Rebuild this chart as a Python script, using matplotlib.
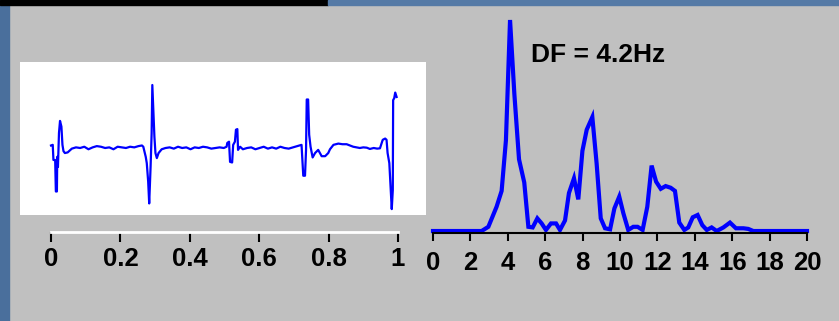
import matplotlib
matplotlib.use('Agg')
import matplotlib.pyplot as plt
from matplotlib.patches import Rectangle

plt.rcParams['font.family'] = ['Liberation Sans', 'DejaVu Sans']
plt.rcParams['font.weight'] = 'bold'

# ECG segment (time in s, amplitude normalised)
ecg_t = [0.0, 0.005, 0.007, 0.012, 0.014, 0.017, 0.018, 0.020, 0.023, 0.026, 0.030, 0.033, 0.036, 0.040,
         0.048, 0.060, 0.072, 0.084, 0.096, 0.108, 0.120, 0.132, 0.144, 0.156, 0.168, 0.180, 0.192,
         0.204, 0.216, 0.228, 0.240, 0.252, 0.262, 0.266,
         0.269, 0.273, 0.276, 0.280, 0.283, 0.287, 0.290, 0.292, 0.295, 0.298, 0.301, 0.305, 0.310, 0.319,
         0.330, 0.342, 0.354, 0.366, 0.378, 0.390, 0.402, 0.414, 0.426, 0.438, 0.450, 0.462, 0.474,
         0.486, 0.498, 0.506,
         0.508, 0.513, 0.516, 0.522, 0.525, 0.530, 0.533, 0.537, 0.539, 0.545, 0.553,
         0.565, 0.577, 0.589, 0.601, 0.613, 0.625, 0.637, 0.649, 0.661, 0.673, 0.685, 0.697, 0.709, 0.722,
         0.724, 0.727, 0.732, 0.735, 0.737, 0.741, 0.744, 0.748, 0.754, 0.761, 0.770, 0.780, 0.790,
         0.799, 0.804, 0.814, 0.828, 0.840, 0.852, 0.871, 0.890, 0.900, 0.910, 0.919, 0.930, 0.940, 0.948,
         0.956, 0.963, 0.967, 0.970, 0.975, 0.979, 0.982, 0.985, 0.986, 0.989, 0.992, 0.996]
ecg_v = [0.04, 0.05, -0.19, -0.19, -0.69, -0.69, -0.14, -0.30, 0.24, 0.43, 0.34, 0.05, -0.05, -0.08,
         -0.07, -0.01, 0.01, 0.00, 0.02, -0.02, 0.01, 0.03, 0.02, 0.00, 0.01, -0.02, 0.02,
         0.01, 0.00, 0.02, 0.01, 0.03, 0.04, 0.02,
         -0.05, -0.14, -0.24, -0.53, -0.88, -0.30, 0.23, 1.00, 0.58, 0.18, -0.08, -0.16, -0.08, -0.02,
         0.00, 0.01, -0.01, 0.02, 0.00, 0.01, -0.02, 0.01, 0.00, 0.02, 0.01, -0.01, 0.00,
         0.01, 0.00, 0.02,
         0.08, 0.10, -0.22, -0.23, 0.05, 0.10, 0.29, 0.30, -0.03, 0.02, -0.02,
         0.00, 0.01, -0.02, 0.00, 0.02, -0.01, 0.01, -0.01, 0.02, 0.00, -0.01, 0.01, 0.03, 0.05,
         -0.14, -0.44, -0.44, -0.03, 0.77, 0.77, 0.21, 0.02, -0.15, -0.08, -0.03, -0.13, -0.13,
         -0.08, -0.02, 0.05, 0.07, 0.06, 0.06, 0.02, 0.00, 0.01, 0.005, -0.015, 0.00, -0.01, -0.005,
         0.13, 0.15, 0.13, -0.08, -0.24, -0.67, -0.97, -0.67, 0.76, 0.79, 0.88, 0.81]

# power spectrum (Hz, normalised power)
freq = [0.0, 2.6, 2.96, 3.4, 3.67, 3.9, 4.12, 4.35, 4.6, 4.88, 5.1, 5.33, 5.58, 5.81, 6.04, 6.31, 6.58,
        6.79, 7.06, 7.27, 7.54, 7.77, 7.99, 8.22, 8.52, 8.75, 8.97, 9.2, 9.47, 9.7, 9.96, 10.18, 10.44,
        10.71, 10.94, 11.21, 11.46, 11.69, 11.93, 12.18, 12.44, 12.71, 12.94, 13.17, 13.44, 13.65, 13.89,
        14.15, 14.4, 14.64, 14.9, 15.17, 15.53, 15.88, 16.2, 16.6, 16.86, 17.13, 20.0]
power = [0.0, 0.0, 0.02, 0.115, 0.19, 0.43, 1.0, 0.65, 0.34, 0.23, 0.02, 0.017, 0.06, 0.036, 0.005,
         0.036, 0.036, 0.005, 0.05, 0.18, 0.25, 0.15, 0.38, 0.48, 0.54, 0.32, 0.06, 0.013, 0.008, 0.107,
         0.163, 0.084, 0.005, 0.02, 0.02, 0.005, 0.115, 0.31, 0.234, 0.2, 0.213, 0.205, 0.19, 0.04, 0.005,
         0.017, 0.065, 0.076, 0.028, 0.005, 0.017, 0.0, 0.017, 0.04, 0.013, 0.013, 0.01, 0.0, 0.0]

t_ticks = [0, 0.2, 0.4, 0.6, 0.8, 1]
t_labels = ['0', '0.2', '0.4', '0.6', '0.8', '1']
f_ticks = [0, 2, 4, 6, 8, 10, 12, 14, 16, 18, 20]

W, H = 839, 321
fig = plt.figure(figsize=(W / 100, H / 100), dpi=100, facecolor='#c0c0c0')


def box(x0, y0, x1, y1):
    # pixel box (top-left origin) -> figure fraction
    return [x0 / W, 1 - y1 / H, (x1 - x0) / W, (y1 - y0) / H]


# frame decorations
fig.patches.append(Rectangle((0, 0), 9 / W, 1, transform=fig.transFigure, color='#4a6f9c', zorder=0))
fig.patches.append(Rectangle((0, 1 - 5 / H), 328 / W, 5 / H, transform=fig.transFigure, color='black', zorder=0))
fig.patches.append(Rectangle((328 / W, 1 - 5 / H), 1 - 328 / W, 5 / H, transform=fig.transFigure,
                             color='#557aa6', zorder=0))

# ECG panel
ax1 = fig.add_axes(box(20, 62, 426, 215))
ax1.set_facecolor('white')
ax1.plot(ecg_t, ecg_v, color='#0000ff', lw=1.6)
ax1.set_xlim(-31 / 347, 375 / 347)
ax1.set_ylim(-67 / 63, 86 / 63)
ax1.set_xticks([])
ax1.set_yticks([])
for s in ax1.spines.values():
    s.set_visible(False)

# time axis below the panel
axt = fig.add_axes(box(51, 200, 398, 232))
axt.patch.set_alpha(0)
axt.set_xlim(0, 1)
axt.set_yticks([])
for s in ['top', 'left', 'right']:
    axt.spines[s].set_visible(False)
axt.spines['bottom'].set_color('white')
axt.spines['bottom'].set_linewidth(2)
axt.set_xticks(t_ticks)
axt.set_xticklabels(t_labels)
axt.tick_params(axis='x', direction='out', length=7, width=1.5, color='black',
                labelsize=18.5, pad=4)

# spectrum
ax2 = fig.add_axes(box(433, 20, 807, 232.5))
ax2.patch.set_alpha(0)
ax2.plot(freq, power, color='#0000ff', lw=3, clip_on=False, solid_joinstyle='miter')
ax2.set_xlim(0, 20)
ax2.set_ylim(-0.007, 1)
ax2.set_yticks([])
for s in ['top', 'left', 'right']:
    ax2.spines[s].set_visible(False)
ax2.spines['bottom'].set_linewidth(1.5)
ax2.set_xticks(f_ticks)
ax2.tick_params(axis='x', direction='out', length=6, width=1.5, color='black',
                labelsize=18.5, pad=7)

fig.text(531 / W, 1 - 55 / H, 'DF = 4.2Hz', fontsize=19, fontweight='bold', va='center', ha='left')

fig.savefig('out.png', dpi=100, facecolor=fig.get_facecolor())
